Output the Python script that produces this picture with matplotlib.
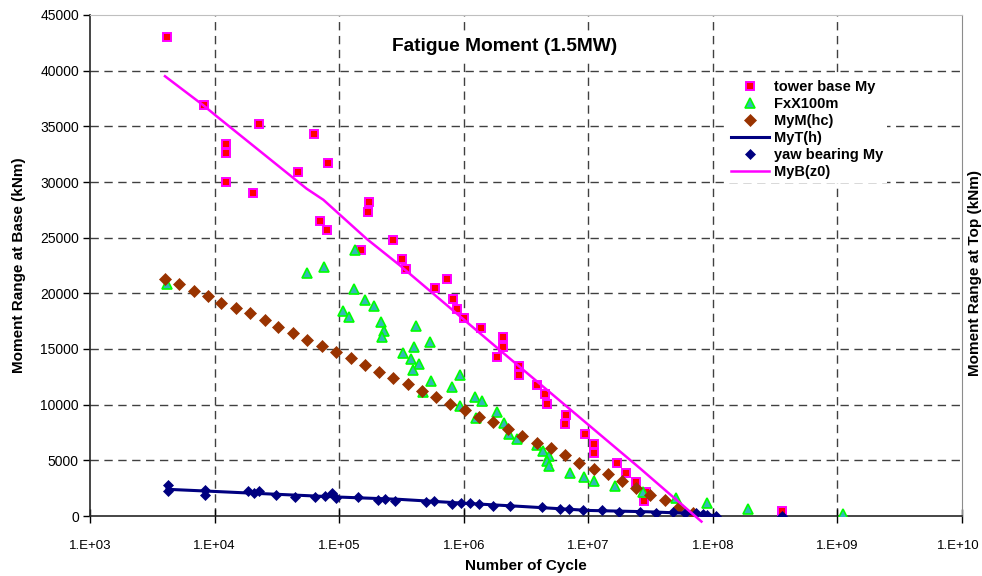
import math

import matplotlib
matplotlib.use("Agg")
import matplotlib.pyplot as plt
from matplotlib.ticker import FixedLocator, FuncFormatter
from matplotlib.transforms import ScaledTranslation

plt.rcParams["font.family"] = ["Liberation Sans", "DejaVu Sans"]

# tower base My (squares)
tb_x = [4150, 8220, 12330, 12330, 12330, 20460, 22600, 47000, 63100, 81900,
        70100, 79700, 173000, 169000, 149600, 273000, 321000, 343000, 738000,
        588000, 815000, 877000, 1000000, 1384000, 2075000, 2075000, 1858000,
        2788000, 2788000, 3870000, 4510000, 4630000, 6610000, 6450000, 9440000,
        11200000, 11200000, 16900000, 20000000, 24100000, 27900000, 29000000,
        358000000]
tb_y = [43000, 36900, 33450, 32600, 30000, 29050, 35200, 30900, 34300, 31750,
        26500, 25650, 28200, 27350, 23900, 24750, 23050, 22200, 21300, 20500,
        19500, 18600, 17750, 16900, 16050, 15200, 14300, 13450, 12650, 11800,
        10950, 10100, 9050, 8250, 7350, 6500, 5650, 4800, 3900, 3050, 1350,
        2200, 480]

# FxX100m (triangles)
fx_x = [4150, 55500, 75200, 134000, 130700, 108000, 120500, 160000, 191000,
        215000, 229000, 222000, 413000, 323000, 398000, 538000, 374000, 439000,
        389000, 548000, 473000, 804000, 937000, 937000, 1236000, 1408000,
        1259000, 1845000, 2113000, 2318000, 2657000, 3843000, 4349000, 4858000,
        4680000, 4858000, 7190000, 9310000, 11100000, 16300000, 27400000,
        50400000, 90000000, 192000000, 1100000000]
fx_y = [20850, 21850, 22400, 23900, 20350, 18450, 17900, 19400, 18900, 17450,
        16600, 16050, 17050, 14600, 15150, 15600, 14100, 13650, 13100, 12150,
        11150, 11600, 12650, 9850, 10700, 10350, 8800, 9350, 8350, 7350, 6900,
        6400, 5850, 5400, 4900, 4450, 3900, 3500, 3100, 2650, 2150, 1650, 1200,
        650, 200]

# MyM(hc) (brown diamonds)
mym_x = [3980, 5210, 6800, 8800, 11250, 14850, 19140, 25240, 32450, 42800,
         55100, 72700, 94200, 123500, 161000, 210000, 272000, 359000, 462000,
         599000, 780000, 1017000, 1324000, 1715000, 2248000, 2930000, 3843000,
         4980000, 6530000, 8420000, 11100000, 14400000, 18600000, 24100000,
         31200000, 41200000, 53700000, 69500000]
mym_y = [21250, 20800, 20250, 19800, 19150, 18650, 18200, 17600, 16950, 16450,
         15850, 15250, 14750, 14150, 13550, 12900, 12400, 11850, 11250, 10700,
         10100, 9500, 8850, 8400, 7800, 7150, 6600, 6100, 5450, 4800, 4250,
         3750, 3100, 2500, 1900, 1400, 800, 300]

# MyT(h) (navy line)
myt_x = [4150, 8200, 20000, 50000, 100000, 300000, 1000000, 3000000,
         10000000, 30000000, 60000000, 100000000]
myt_y = [2400, 2250, 2050, 1850, 1700, 1500, 1150, 850, 500, 380, 250, 50]

# yaw bearing My (navy diamonds)
yaw_x = [4230, 4230, 8370, 8370, 18450, 20700, 22850, 30900, 43900, 63900,
         77000, 87100, 93800, 141500, 204000, 234000, 282000, 498000, 577000,
         800000, 955000, 1115000, 1331000, 1725000, 2350000, 4245000, 5915000,
         7030000, 9100000, 12860000, 17500000, 25900000, 34900000, 48100000,
         59600000, 73900000, 83600000, 90000000, 105700000, 358000000]
yaw_y = [2800, 2270, 2340, 1860, 2270, 2040, 2220, 1890, 1680, 1710, 1800,
         2040, 1640, 1730, 1440, 1550, 1370, 1290, 1370, 1080, 1170, 1190,
         1050, 930, 930, 780, 660, 660, 510, 510, 390, 390, 270, 360, 270, 240,
         180, 120, 30, 0]

# MyB(z0) (magenta line)
myb_x = [4000, 8100, 10400, 54800, 74700, 166000, 308000, 1950000, 25900000,
         81000000]
myb_y = [39500, 36900, 35900, 29400, 28400, 24900, 22500, 14900, 4300, -500]

x_ticks = [1e3, 1e4, 1e5, 1e6, 1e7, 1e8, 1e9, 1e10]
y_ticks = list(range(0, 45001, 5000))


def plot_fatigue():
    fig = plt.figure(figsize=(9.82, 5.76), dpi=100)
    ax = fig.add_axes([90 / 982, 60 / 576, 872 / 982, 501 / 576])

    ax.set_xscale("log")
    ax.set_xlim(1e3, 1e10)
    ax.set_ylim(0, 45000)

    grid_kw = dict(color="0.25", lw=1.0, ls=(0, (6, 4)), zorder=0)
    for v in y_ticks[1:-1]:
        ax.axhline(v, **grid_kw)
    for v in x_ticks[1:-1]:
        ax.axvline(v, **grid_kw)

    ax.plot(tb_x, tb_y, ls="none", marker="s", ms=5.5, mfc="#FF0000",
            mec="#FF00FF", mew=1.4, label="tower base My", zorder=3)
    ax.plot(fx_x, fx_y, ls="none", marker="^", ms=6.5, mfc="#33B8B8",
            mec="#00FF00", mew=1.2, label="FxX100m", zorder=3)
    ax.plot(mym_x, mym_y, ls="none", marker="D", ms=6, mfc="#993300",
            mec="#993300", mew=0.5, label="MyM(hc)", zorder=3)
    ax.plot(myt_x, myt_y, color="#000080", lw=2.2, label="MyT(h)", zorder=4)
    ax.plot(yaw_x, yaw_y, ls="none", marker="D", ms=5.5, mfc="#000080",
            mec="#000080", mew=0.5, label="yaw bearing My", zorder=4)
    ax.plot(myb_x, myb_y, color="#FF00FF", lw=1.8, label="MyB(z0)", zorder=5,
            clip_on=False)

    ax.xaxis.set_major_locator(FixedLocator(x_ticks))
    ax.xaxis.set_minor_locator(FixedLocator([]))
    ax.xaxis.set_major_formatter(
        FuncFormatter(lambda v, p: "1.E+%02d" % round(math.log10(v))))
    ax.yaxis.set_major_locator(FixedLocator(y_ticks))
    ax.tick_params(axis="x", direction="inout", length=10, width=1,
                   labelsize=9.5, pad=12)
    ax.tick_params(axis="y", direction="out", length=5, width=1,
                   labelsize=10, pad=3)
    # last x label sits at the figure edge, nudge it a little inside
    last = ax.get_xticklabels()[-1]
    last.set_transform(last.get_transform()
                       + ScaledTranslation(-4 / 100, 0, fig.dpi_scale_trans))

    for side in ("left", "bottom"):
        ax.spines[side].set_color("0.15")
        ax.spines[side].set_linewidth(1.2)
    ax.spines["right"].set_color("0.55")
    ax.spines["top"].set_color("0.75")

    ax.set_xlabel("Number of Cycle", fontsize=11, fontweight="bold", labelpad=5)
    ax.set_ylabel("Moment Range at Base (kNm)", fontsize=11, fontweight="bold",
                  labelpad=10)
    fig.text(975 / 982, 0.5 + 15 / 576, "Moment Range at Top (kNm)",
             rotation=90, ha="center", va="center", fontsize=11,
             fontweight="bold")

    ax.text(0.475, 0.938, "Fatigue Moment (1.5MW)", transform=ax.transAxes,
            ha="center", va="center", fontsize=13.8, fontweight="bold",
            bbox=dict(facecolor="white", edgecolor="none", pad=3), zorder=6)

    leg = ax.legend(loc="upper left",
                    bbox_to_anchor=((727 - 90) / 872, (576 - 76 - 60) / 501),
                    frameon=True, fancybox=False, fontsize=10.5,
                    handlelength=2.6, handletextpad=0.3, labelspacing=0.2,
                    borderpad=0.3, borderaxespad=0)
    leg.get_frame().set_edgecolor("none")
    leg.get_frame().set_facecolor("white")
    leg.get_frame().set_alpha(1)
    for t in leg.get_texts():
        t.set_fontweight("bold")
    leg.set_zorder(6)

    plt.savefig("out.png", dpi=100)


if __name__ == "__main__":
    plot_fatigue()
